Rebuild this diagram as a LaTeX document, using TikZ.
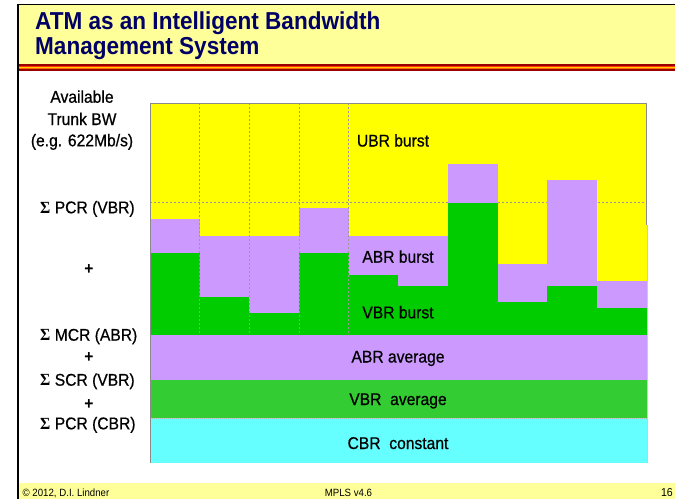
\documentclass[tikz,border=0pt]{standalone}
\usepackage{fontspec}
\setmainfont{Liberation Sans}[FakeStretch=0.92]
\newfontfamily\labelfont{Liberation Sans}[FakeStretch=0.92, FakeBold=0.6]
\newfontfamily\sigmafont{Liberation Serif}[FakeStretch=0.92]
\definecolor{titlefill}{HTML}{FFFF99}
\definecolor{titleink}{HTML}{000066}
\definecolor{stripedark}{HTML}{990000}
\definecolor{stripered}{HTML}{FF3300}
\definecolor{stripeyellow}{HTML}{FFCC00}
\definecolor{stripeorange}{HTML}{FF6600}
\definecolor{ubrc}{HTML}{FFFF00}
\definecolor{abrc}{HTML}{CC99FF}
\definecolor{vbrc}{HTML}{00CC00}
\definecolor{vbravg}{HTML}{33CC33}
\definecolor{cbrc}{HTML}{66FFFF}
\definecolor{gridc}{HTML}{999999}
\begin{document}
\begin{tikzpicture}[x=1pt,y=-1pt,
  titletext/.style={font=\fontsize{24.5}{26}\selectfont\bfseries, text=titleink, inner sep=0pt, anchor=base west},
  lbl/.style={font=\labelfont\fontsize{17}{20}\selectfont, inner sep=0pt, anchor=base},
  plus/.style={font=\fontsize{17}{20}\selectfont\bfseries, inner sep=0pt, anchor=base},
  foot/.style={font=\fontsize{10.5}{12}\selectfont, inner sep=0pt, anchor=base},
  gridline/.style={gridc, line width=0.8pt, dash pattern=on 2pt off 2pt}]
\useasboundingbox (0,0) rectangle (675,499);
\fill[white] (0,0) rectangle (675,499);

% title band with its striped rule
\fill[titlefill] (18,5) rectangle (675,64);
\fill[stripedark] (18,64) rectangle (675,65.5);
\fill[stripered] (18,65.5) rectangle (675,66.7);
\fill[stripeyellow] (18,66.7) rectangle (675,68.3);
\fill[stripeorange] (18,68.3) rectangle (675,69.3);
\fill[stripedark] (18,69.3) rectangle (675,70.7);

% footer band
\fill[titlefill] (18,483) rectangle (675,499);

% slide frame
\draw[line width=1.5pt] (18,499) -- (18,4.5) -- (675,4.5);

\node[titletext] (t1) at (35,29.3) {ATM as an Intelligent Bandwidth};
\node[titletext] (t2) at (35,54.8) {Management System};

% chart: UBR background and the PCR(VBR) level
\fill[ubrc] (150,103) rectangle (646.7,335);
\draw[gridline] (150,202.7) -- (646.7,202.7);

% per-interval ABR and VBR bursts: index / ABR top / VBR top
\foreach \i/\p/\g in {0/219/253.3, 1/235.7/297, 2/235.7/313, 3/207.7/253.3,
                      4/235.7/275, 5/235.7/286, 6/164/202.7, 7/264/301.7,
                      8/180/286, 9/281/307.7} {
  \pgfmathsetmacro\xa{150+\i*49.667}
  \pgfmathsetmacro\xb{\xa+49.667+0.3}
  \fill[abrc] (\xa,\p) rectangle (\xb,\g+0.3);
  \fill[vbrc] (\xa,\g) rectangle (\xb,335.3);
}
\foreach \i in {1,...,4}
  \draw[gridline] (150+\i*49.667,103) -- ++(0,232);

% guaranteed bands
\fill[abrc] (150,335) rectangle (646.7,380);
\fill[vbravg] (150,380) rectangle (646.7,418);
\fill[cbrc] (150,418) rectangle (646.7,463);
\draw[gridc!70, line width=0.5pt, dash pattern=on 1pt off 1pt] (150,418) -- (646.7,418);

% chart outline
\draw[gridc!90!black, line width=1pt] (150,463) -- (150,103) -- (646.7,103) -- (646.7,225);
\draw[gridc!50, line width=0.6pt] (646.9,225) -- (646.9,463);

% chart labels
\node[lbl] (ubr) at (393,146.5) {UBR burst};
\node[lbl] (abrb) at (398,262.7) {ABR burst};
\node[lbl] (vbrb) at (398,318.3) {VBR burst};
\node[lbl] (abra) at (398,362.5) {ABR average};
\node[lbl] (vbra) at (398,405) {VBR\ \ average};
\node[lbl] (cbr) at (398,449) {CBR\ \ constant};

% axis annotations
\node[lbl] (av1) at (82,102.7) {Available};
\node[lbl] (av2) at (82,125) {Trunk BW};
\node[lbl] (av3) at (82,146.3) {(e.g. 622Mb/s)};
\node[lbl, anchor=base west] (s1) at (40,213.3) {{\sigmafont\bfseries Σ} PCR (VBR)};
\node[plus] (p1) at (89,274) {+};
\node[lbl, anchor=base west] (s2) at (40,340.7) {{\sigmafont\bfseries Σ} MCR (ABR)};
\node[plus] (p2) at (89,362) {+};
\node[lbl, anchor=base west] (s3) at (40,385.7) {{\sigmafont\bfseries Σ} SCR (VBR)};
\node[plus] (p3) at (89,409) {+};
\node[lbl, anchor=base west] (s4) at (40,429.3) {{\sigmafont\bfseries Σ} PCR (CBR)};

% footer texts
\node[foot, anchor=base west] (copy) at (22.5,496) {© 2012, D.I. Lindner};
\node[foot] (ver) at (348.5,496) {MPLS v4.6};
\node[foot, anchor=base east, font=\fontsize{11.5}{12}\selectfont] (pg) at (673,496.5) {16};
\end{tikzpicture}
\end{document}
